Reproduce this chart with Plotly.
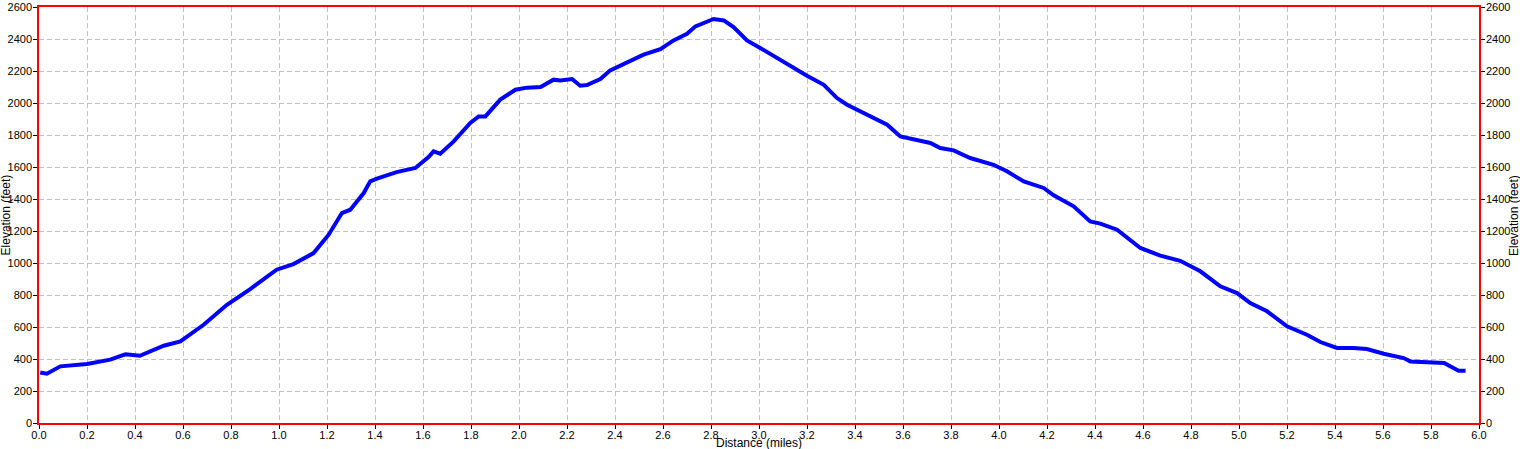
import plotly.graph_objects as go

# elevation profile
distance_mi = [0.005, 0.033, 0.089, 0.2, 0.297, 0.36, 0.42, 0.52, 0.589, 0.686,
               0.783, 0.88, 0.99, 1.06, 1.144, 1.207, 1.262, 1.297, 1.353, 1.38,
               1.408, 1.49, 1.568, 1.623, 1.644, 1.672, 1.728, 1.797, 1.832, 1.86,
               1.922, 1.985, 2.033, 2.09, 2.144, 2.172, 2.221, 2.255, 2.283, 2.339,
               2.38, 2.45, 2.519, 2.589, 2.644, 2.7, 2.735, 2.811, 2.853, 2.894,
               2.95, 3.005, 3.074, 3.165, 3.2, 3.27, 3.325, 3.367, 3.45, 3.534,
               3.589, 3.645, 3.714, 3.755, 3.811, 3.88, 3.977, 4.033, 4.103, 4.186,
               4.228, 4.311, 4.38, 4.422, 4.492, 4.589, 4.672, 4.755, 4.839, 4.922,
               4.992, 5.047, 5.117, 5.2, 5.283, 5.339, 5.408, 5.478, 5.533, 5.603,
               5.686, 5.714, 5.797, 5.855, 5.88, 5.915, 5.944]
elevation_ft = [316, 308, 354, 369, 396, 429, 420, 483, 510, 614,
                739, 837, 958, 993, 1062, 1177, 1312, 1333, 1437, 1510,
                1527, 1568, 1594, 1662, 1698, 1683, 1760, 1875, 1916, 1916,
                2021, 2083, 2096, 2100, 2146, 2141, 2150, 2108, 2112, 2150,
                2204, 2250, 2302, 2337, 2391, 2433, 2479, 2525, 2516, 2475,
                2391, 2344, 2281, 2204, 2171, 2114, 2031, 1989, 1927, 1864,
                1791, 1771, 1750, 1719, 1704, 1656, 1614, 1573, 1510, 1469,
                1423, 1354, 1260, 1246, 1208, 1094, 1046, 1014, 948, 854,
                812, 750, 698, 604, 552, 506, 469, 469, 462, 433,
                406, 385, 379, 375, 354, 327, 327]

tick_font = dict(family="Liberation Sans, Arial", size=11, color="black")
title_font = dict(family="Liberation Sans, Arial", size=12, color="black")

fig = go.Figure()
fig.add_trace(go.Scatter(x=distance_mi, y=elevation_ft, mode="lines",
                         line=dict(color="#0000ff", width=4), showlegend=False))
# copy on the right axis so it gets drawn
fig.add_trace(go.Scatter(x=distance_mi, y=elevation_ft, mode="lines", yaxis="y2",
                         line=dict(color="rgba(0,0,0,0)", width=0),
                         showlegend=False, hoverinfo="skip"))

axis_common = dict(showline=True, linecolor="red", linewidth=1.5,
                   ticks="outside", ticklen=4, tickcolor="black",
                   zeroline=False, tickfont=tick_font, automargin=False)
grid = dict(gridcolor="#c0c0c0", griddash="5px,3px", gridwidth=1)

fig.update_layout(
    width=1520, height=449,
    margin=dict(l=39, r=41, t=7, b=26, autoexpand=False),
    plot_bgcolor="white", paper_bgcolor="white",
    font=tick_font,
    xaxis=dict(range=[0, 6], dtick=0.2, tickformat=".1f", mirror=True,
               ticklabelstandoff=-3, **axis_common, **grid),
    yaxis=dict(range=[0, 2600], dtick=200, ticklabelstandoff=-1,
               **axis_common, **grid),
    yaxis2=dict(range=[0, 2600], dtick=200, overlaying="y", side="right",
                ticklabelstandoff=-1, showgrid=False, **axis_common),
    annotations=[
        dict(text="Distance (miles)", xref="paper", yref="paper", x=0.5, y=-0.047,
             yanchor="middle", showarrow=False, font=title_font),
        dict(text="Elevation (feet)", xref="paper", yref="paper", x=-0.0226, y=0.5,
             xanchor="center", textangle=-90, showarrow=False, font=title_font),
        dict(text="Elevation (feet)", xref="paper", yref="paper", x=1.0243, y=0.5,
             xanchor="center", textangle=-90, showarrow=False, font=title_font),
    ],
)

# page body has an 8px default margin; drop it so the figure fills the window
fig.write_html("out.html", config={"displayModeBar": False},
               post_script="document.body.style.margin='0';")
